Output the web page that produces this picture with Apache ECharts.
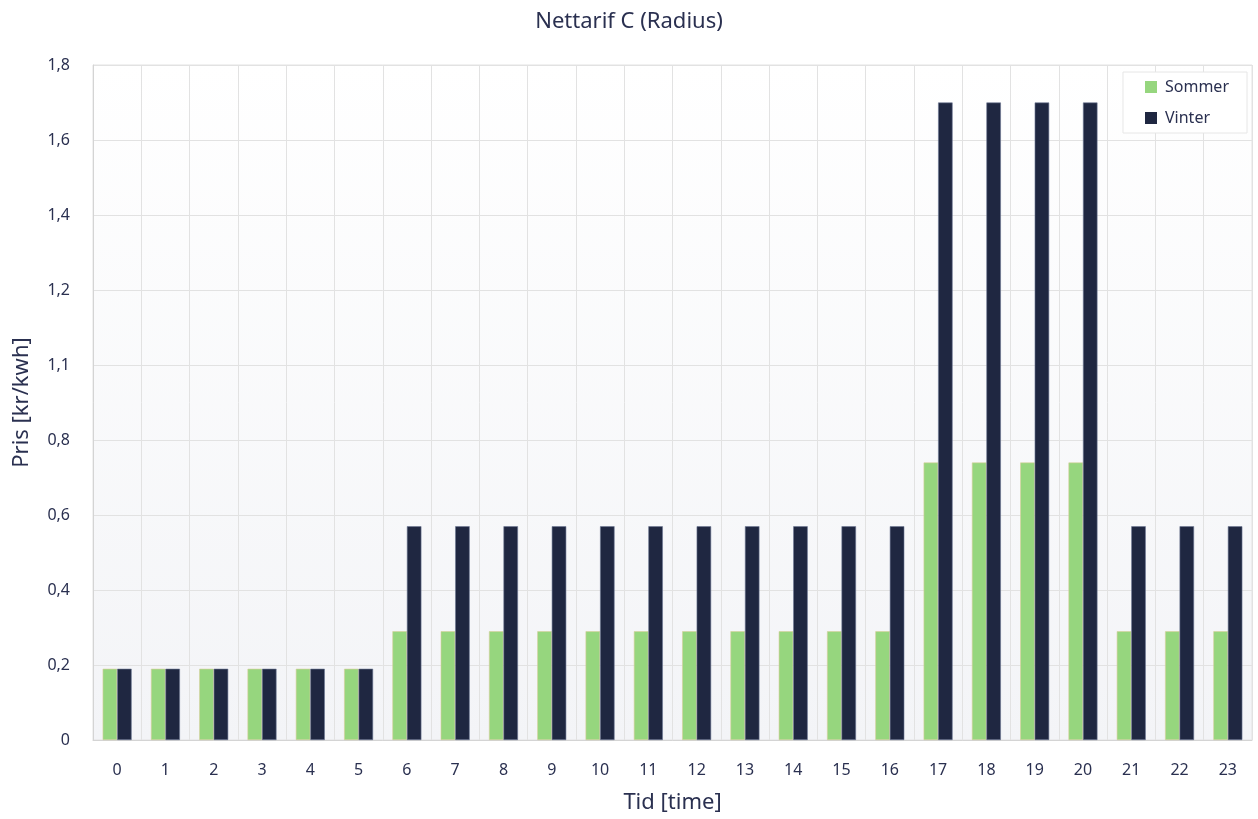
<!DOCTYPE html>
<html>
<head>
<meta charset="utf-8">
<script src="https://cdn.jsdelivr.net/npm/echarts@6/dist/echarts.min.js"></script>
<style>
  html, body { margin: 0; padding: 0; background: #ffffff; }
  #chart { width: 1258px; height: 819px; }
</style>
</head>
<body>
<div id="chart"></div>
<script>
// Hours of the day
const hours = ['0','1','2','3','4','5','6','7','8','9','10','11','12','13','14','15','16','17','18','19','20','21','22','23'];

// Network tariff per hour (kr/kWh)
const sommer = [0.19,0.19,0.19,0.19,0.19,0.19,0.29,0.29,0.29,0.29,0.29,0.29,0.29,0.29,0.29,0.29,0.29,0.74,0.74,0.74,0.74,0.29,0.29,0.29];
const vinter = [0.19,0.19,0.19,0.19,0.19,0.19,0.57,0.57,0.57,0.57,0.57,0.57,0.57,0.57,0.57,0.57,0.57,1.70,1.70,1.70,1.70,0.57,0.57,0.57];

// Y tick labels, one per 0.2 step from 0 to 1.8
const yTickLabels = ['0','0,2','0,4','0,6','0,8','1,1','1,2','1,4','1,6','1,8'];

const textColor = '#2a3050';
const font = 'Noto Sans';

const chart = echarts.init(document.getElementById('chart'), null, { renderer: 'canvas' });

chart.setOption({
  animation: false,
  backgroundColor: '#ffffff',
  textStyle: { fontFamily: font, color: textColor },
  title: {
    text: 'Nettarif C (Radius)',
    left: 'center',
    top: 6,
    textStyle: { fontFamily: font, fontSize: 22, fontWeight: 'normal', color: textColor }
  },
  legend: {
    orient: 'vertical',
    right: 11,
    top: 72,
    padding: [7, 18, 7, 22],
    itemWidth: 12,
    itemHeight: 12,
    itemGap: 15,
    backgroundColor: '#ffffff',
    borderColor: '#e6e6e6',
    borderWidth: 1,
    icon: 'rect',
    itemStyle: { borderWidth: 0 },
    textStyle: { fontFamily: font, fontSize: 16, color: textColor, padding: [0, 0, 0, 3] },
    data: ['Sommer', 'Vinter']
  },
  grid: {
    left: 93,
    right: 6,
    top: 65,
    bottom: 79,
    outerBoundsMode: 'none',
    containLabel: false,
    show: true,
    borderColor: '#e2e2e2',
    borderWidth: 1,
    backgroundColor: new echarts.graphic.LinearGradient(0, 0, 0, 1, [
      { offset: 0, color: '#ffffff' },
      { offset: 1, color: '#f3f4f7' }
    ])
  },
  xAxis: {
    type: 'category',
    data: hours,
    boundaryGap: true,
    name: 'Tid [time]',
    nameLocation: 'middle',
    nameGap: 52,
    nameTextStyle: { fontFamily: font, fontSize: 22, color: textColor },
    axisLine: { show: true, lineStyle: { color: '#d4d4d4', width: 1 } },
    axisTick: { show: false },
    axisLabel: { fontFamily: font, fontSize: 16, color: textColor, margin: 22 },
    splitLine: { show: true, lineStyle: { color: '#e2e2e2', width: 1 } }
  },
  yAxis: {
    type: 'value',
    min: 0,
    max: 1.8,
    interval: 0.2,
    name: 'Pris [kr/kwh]',
    nameLocation: 'middle',
    nameGap: 60,
    nameRotate: 90,
    nameTextStyle: { fontFamily: font, fontSize: 22, color: textColor },
    axisLine: { show: true, lineStyle: { color: '#d4d4d4', width: 1 } },
    axisTick: { show: false },
    axisLabel: {
      fontFamily: font,
      fontSize: 16,
      color: textColor,
      margin: 23,
      formatter: function (v) {
        const i = Math.round(v / 0.2);
        return yTickLabels[i] !== undefined ? yTickLabels[i] : '';
      }
    },
    splitLine: { show: true, lineStyle: { color: '#e2e2e2', width: 1 } }
  },
  series: [
    {
      name: 'Sommer',
      type: 'bar',
      data: sommer,
      barGap: '0%',
      barCategoryGap: '40%',
      itemStyle: { color: '#96d67e', borderColor: '#d8cf9a', borderWidth: 0.6 }
    },
    {
      name: 'Vinter',
      type: 'bar',
      data: vinter,
      barGap: '0%',
      barCategoryGap: '40%',
      itemStyle: { color: '#1f2741', borderColor: '#6c7794', borderWidth: 0.6 }
    }
  ]
});
</script>
</body>
</html>
